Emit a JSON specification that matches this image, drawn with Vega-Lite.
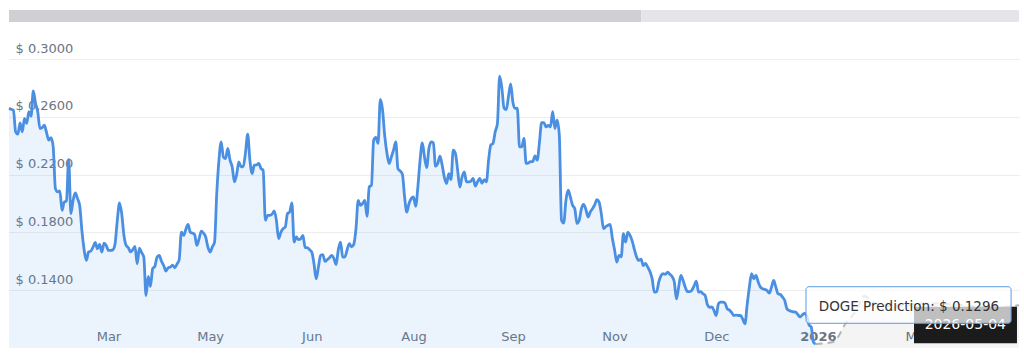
{
  "$schema": "https://vega.github.io/schema/vega-lite/v6.json",
  "background": "white",
  "padding": {"left": 7, "top": 10, "right": 0, "bottom": 0},
  "bounds": "flush",
  "spacing": 37,
  "config": {"view": {"stroke": null}, "font": "DejaVu Sans"},
  "datasets": {
    "scroll": [
      {"part": "viewed", "from": 0, "to": 0.626},
      {"part": "rest", "from": 0.626, "to": 1}
    ],
    "history": [
      {"date": "2025-02-01", "price": 0.2658}, {"date": "2025-02-02", "price": 0.2652}, {"date": "2025-02-03", "price": 0.2646}, {"date": "2025-02-04", "price": 0.2496}, {"date": "2025-02-05", "price": 0.2480}, {"date": "2025-02-06", "price": 0.2558}, {"date": "2025-02-07", "price": 0.2496}, {"date": "2025-02-08", "price": 0.2589}, {"date": "2025-02-09", "price": 0.2554}, {"date": "2025-02-10", "price": 0.2635}, {"date": "2025-02-11", "price": 0.2605}, {"date": "2025-02-12", "price": 0.2780}, {"date": "2025-02-13", "price": 0.2693}, {"date": "2025-02-14", "price": 0.2635}, {"date": "2025-02-15", "price": 0.2519}, {"date": "2025-02-16", "price": 0.2525}, {"date": "2025-02-17", "price": 0.2542}, {"date": "2025-02-18", "price": 0.2490}, {"date": "2025-02-19", "price": 0.2438}, {"date": "2025-02-20", "price": 0.2455}, {"date": "2025-02-21", "price": 0.2392}, {"date": "2025-02-22", "price": 0.2103}, {"date": "2025-02-23", "price": 0.2080}, {"date": "2025-02-24", "price": 0.2087}, {"date": "2025-02-25", "price": 0.1953}, {"date": "2025-02-26", "price": 0.2010}, {"date": "2025-02-27", "price": 0.2017}, {"date": "2025-02-28", "price": 0.2306},
      {"date": "2025-03-01", "price": 0.1930}, {"date": "2025-03-02", "price": 0.2022}, {"date": "2025-03-03", "price": 0.2073}, {"date": "2025-03-04", "price": 0.2034}, {"date": "2025-03-05", "price": 0.1985}, {"date": "2025-03-06", "price": 0.1810}, {"date": "2025-03-07", "price": 0.1680}, {"date": "2025-03-08", "price": 0.1606}, {"date": "2025-03-09", "price": 0.1665}, {"date": "2025-03-10", "price": 0.1670}, {"date": "2025-03-11", "price": 0.1698}, {"date": "2025-03-12", "price": 0.1730}, {"date": "2025-03-13", "price": 0.1687}, {"date": "2025-03-14", "price": 0.1717}, {"date": "2025-03-15", "price": 0.1664}, {"date": "2025-03-16", "price": 0.1726}, {"date": "2025-03-17", "price": 0.1710}, {"date": "2025-03-18", "price": 0.1675}, {"date": "2025-03-19", "price": 0.1675}, {"date": "2025-03-20", "price": 0.1680}, {"date": "2025-03-21", "price": 0.1722}, {"date": "2025-03-22", "price": 0.1883}, {"date": "2025-03-23", "price": 0.2004}, {"date": "2025-03-24", "price": 0.1930}, {"date": "2025-03-25", "price": 0.1780}, {"date": "2025-03-26", "price": 0.1710}, {"date": "2025-03-27", "price": 0.1694}, {"date": "2025-03-28", "price": 0.1665}, {"date": "2025-03-29", "price": 0.1680}, {"date": "2025-03-30", "price": 0.1703}, {"date": "2025-03-31", "price": 0.1583},
      {"date": "2025-04-01", "price": 0.1691}, {"date": "2025-04-02", "price": 0.1660}, {"date": "2025-04-03", "price": 0.1629}, {"date": "2025-04-04", "price": 0.1363}, {"date": "2025-04-05", "price": 0.1495}, {"date": "2025-04-06", "price": 0.1426}, {"date": "2025-04-07", "price": 0.1549}, {"date": "2025-04-08", "price": 0.1565}, {"date": "2025-04-09", "price": 0.1629}, {"date": "2025-04-10", "price": 0.1640}, {"date": "2025-04-11", "price": 0.1600}, {"date": "2025-04-12", "price": 0.1571}, {"date": "2025-04-13", "price": 0.1532}, {"date": "2025-04-14", "price": 0.1555}, {"date": "2025-04-15", "price": 0.1560}, {"date": "2025-04-16", "price": 0.1574}, {"date": "2025-04-17", "price": 0.1555}, {"date": "2025-04-18", "price": 0.1580}, {"date": "2025-04-19", "price": 0.1611}, {"date": "2025-04-20", "price": 0.1802}, {"date": "2025-04-21", "price": 0.1779}, {"date": "2025-04-22", "price": 0.1820}, {"date": "2025-04-23", "price": 0.1856}, {"date": "2025-04-24", "price": 0.1802}, {"date": "2025-04-25", "price": 0.1795}, {"date": "2025-04-26", "price": 0.1785}, {"date": "2025-04-27", "price": 0.1710}, {"date": "2025-04-28", "price": 0.1755}, {"date": "2025-04-29", "price": 0.1809}, {"date": "2025-04-30", "price": 0.1795},
      {"date": "2025-05-01", "price": 0.1768}, {"date": "2025-05-02", "price": 0.1698}, {"date": "2025-05-03", "price": 0.1664}, {"date": "2025-05-04", "price": 0.1700}, {"date": "2025-05-05", "price": 0.1733}, {"date": "2025-05-06", "price": 0.2069}, {"date": "2025-05-07", "price": 0.2300}, {"date": "2025-05-08", "price": 0.2427}, {"date": "2025-05-09", "price": 0.2322}, {"date": "2025-05-10", "price": 0.2311}, {"date": "2025-05-11", "price": 0.2381}, {"date": "2025-05-12", "price": 0.2300}, {"date": "2025-05-13", "price": 0.2253}, {"date": "2025-05-14", "price": 0.2149}, {"date": "2025-05-15", "price": 0.2200}, {"date": "2025-05-16", "price": 0.2288}, {"date": "2025-05-17", "price": 0.2253}, {"date": "2025-05-18", "price": 0.2258}, {"date": "2025-05-19", "price": 0.2350}, {"date": "2025-05-20", "price": 0.2480}, {"date": "2025-05-21", "price": 0.2300}, {"date": "2025-05-22", "price": 0.2207}, {"date": "2025-05-23", "price": 0.2265}, {"date": "2025-05-24", "price": 0.2267}, {"date": "2025-05-25", "price": 0.2277}, {"date": "2025-05-26", "price": 0.2242}, {"date": "2025-05-27", "price": 0.2230}, {"date": "2025-05-28", "price": 0.1883}, {"date": "2025-05-29", "price": 0.1918}, {"date": "2025-05-30", "price": 0.1918}, {"date": "2025-05-31", "price": 0.1925},
      {"date": "2025-06-01", "price": 0.1948}, {"date": "2025-06-02", "price": 0.1883}, {"date": "2025-06-03", "price": 0.1757}, {"date": "2025-06-04", "price": 0.1800}, {"date": "2025-06-05", "price": 0.1826}, {"date": "2025-06-06", "price": 0.1837}, {"date": "2025-06-07", "price": 0.1930}, {"date": "2025-06-08", "price": 0.1941}, {"date": "2025-06-09", "price": 0.2004}, {"date": "2025-06-10", "price": 0.1733}, {"date": "2025-06-11", "price": 0.1768}, {"date": "2025-06-12", "price": 0.1750}, {"date": "2025-06-13", "price": 0.1755}, {"date": "2025-06-14", "price": 0.1779}, {"date": "2025-06-15", "price": 0.1694}, {"date": "2025-06-16", "price": 0.1694}, {"date": "2025-06-17", "price": 0.1680}, {"date": "2025-06-18", "price": 0.1664}, {"date": "2025-06-19", "price": 0.1583}, {"date": "2025-06-20", "price": 0.1479}, {"date": "2025-06-21", "price": 0.1560}, {"date": "2025-06-22", "price": 0.1641}, {"date": "2025-06-23", "price": 0.1646}, {"date": "2025-06-24", "price": 0.1599}, {"date": "2025-06-25", "price": 0.1611}, {"date": "2025-06-26", "price": 0.1625}, {"date": "2025-06-27", "price": 0.1641}, {"date": "2025-06-28", "price": 0.1620}, {"date": "2025-06-29", "price": 0.1578}, {"date": "2025-06-30", "price": 0.1680},
      {"date": "2025-07-01", "price": 0.1733}, {"date": "2025-07-02", "price": 0.1629}, {"date": "2025-07-03", "price": 0.1631}, {"date": "2025-07-04", "price": 0.1680}, {"date": "2025-07-05", "price": 0.1722}, {"date": "2025-07-06", "price": 0.1700}, {"date": "2025-07-07", "price": 0.1717}, {"date": "2025-07-08", "price": 0.1826}, {"date": "2025-07-09", "price": 0.2022}, {"date": "2025-07-10", "price": 0.1988}, {"date": "2025-07-11", "price": 0.2000}, {"date": "2025-07-12", "price": 0.2022}, {"date": "2025-07-13", "price": 0.1911}, {"date": "2025-07-14", "price": 0.2114}, {"date": "2025-07-15", "price": 0.2126}, {"date": "2025-07-16", "price": 0.2438}, {"date": "2025-07-17", "price": 0.2457}, {"date": "2025-07-18", "price": 0.2416}, {"date": "2025-07-19", "price": 0.2720}, {"date": "2025-07-20", "price": 0.2651}, {"date": "2025-07-21", "price": 0.2470}, {"date": "2025-07-22", "price": 0.2350}, {"date": "2025-07-23", "price": 0.2277}, {"date": "2025-07-24", "price": 0.2322}, {"date": "2025-07-25", "price": 0.2369}, {"date": "2025-07-26", "price": 0.2427}, {"date": "2025-07-27", "price": 0.2240}, {"date": "2025-07-28", "price": 0.2225}, {"date": "2025-07-29", "price": 0.2203}, {"date": "2025-07-30", "price": 0.2045}, {"date": "2025-07-31", "price": 0.1941},
      {"date": "2025-08-01", "price": 0.2000}, {"date": "2025-08-02", "price": 0.2034}, {"date": "2025-08-03", "price": 0.2045}, {"date": "2025-08-04", "price": 0.1981}, {"date": "2025-08-05", "price": 0.2114}, {"date": "2025-08-06", "price": 0.2300}, {"date": "2025-08-07", "price": 0.2420}, {"date": "2025-08-08", "price": 0.2322}, {"date": "2025-08-09", "price": 0.2249}, {"date": "2025-08-10", "price": 0.2380}, {"date": "2025-08-11", "price": 0.2427}, {"date": "2025-08-12", "price": 0.2420}, {"date": "2025-08-13", "price": 0.2258}, {"date": "2025-08-14", "price": 0.2277}, {"date": "2025-08-15", "price": 0.2327}, {"date": "2025-08-16", "price": 0.2265}, {"date": "2025-08-17", "price": 0.2180}, {"date": "2025-08-18", "price": 0.2138}, {"date": "2025-08-19", "price": 0.2207}, {"date": "2025-08-20", "price": 0.2166}, {"date": "2025-08-21", "price": 0.2369}, {"date": "2025-08-22", "price": 0.2346}, {"date": "2025-08-23", "price": 0.2230}, {"date": "2025-08-24", "price": 0.2114}, {"date": "2025-08-25", "price": 0.2184}, {"date": "2025-08-26", "price": 0.2219}, {"date": "2025-08-27", "price": 0.2149}, {"date": "2025-08-28", "price": 0.2149}, {"date": "2025-08-29", "price": 0.2155}, {"date": "2025-08-30", "price": 0.2173}, {"date": "2025-08-31", "price": 0.2120},
      {"date": "2025-09-01", "price": 0.2150}, {"date": "2025-09-02", "price": 0.2173}, {"date": "2025-09-03", "price": 0.2140}, {"date": "2025-09-04", "price": 0.2165}, {"date": "2025-09-05", "price": 0.2149}, {"date": "2025-09-06", "price": 0.2300}, {"date": "2025-09-07", "price": 0.2404}, {"date": "2025-09-08", "price": 0.2416}, {"date": "2025-09-09", "price": 0.2496}, {"date": "2025-09-10", "price": 0.2554}, {"date": "2025-09-11", "price": 0.2882}, {"date": "2025-09-12", "price": 0.2800}, {"date": "2025-09-13", "price": 0.2660}, {"date": "2025-09-14", "price": 0.2650}, {"date": "2025-09-15", "price": 0.2740}, {"date": "2025-09-16", "price": 0.2827}, {"date": "2025-09-17", "price": 0.2700}, {"date": "2025-09-18", "price": 0.2658}, {"date": "2025-09-19", "price": 0.2660}, {"date": "2025-09-20", "price": 0.2392}, {"date": "2025-09-21", "price": 0.2392}, {"date": "2025-09-22", "price": 0.2450}, {"date": "2025-09-23", "price": 0.2277}, {"date": "2025-09-24", "price": 0.2280}, {"date": "2025-09-25", "price": 0.2290}, {"date": "2025-09-26", "price": 0.2290}, {"date": "2025-09-27", "price": 0.2330}, {"date": "2025-09-28", "price": 0.2300}, {"date": "2025-09-29", "price": 0.2420}, {"date": "2025-09-30", "price": 0.2560},
      {"date": "2025-10-01", "price": 0.2560}, {"date": "2025-10-02", "price": 0.2531}, {"date": "2025-10-03", "price": 0.2540}, {"date": "2025-10-04", "price": 0.2530}, {"date": "2025-10-05", "price": 0.2635}, {"date": "2025-10-06", "price": 0.2519}, {"date": "2025-10-07", "price": 0.2577}, {"date": "2025-10-08", "price": 0.2473}, {"date": "2025-10-09", "price": 0.1883}, {"date": "2025-10-10", "price": 0.1865}, {"date": "2025-10-11", "price": 0.2022}, {"date": "2025-10-12", "price": 0.2092}, {"date": "2025-10-13", "price": 0.2045}, {"date": "2025-10-14", "price": 0.1988}, {"date": "2025-10-15", "price": 0.1964}, {"date": "2025-10-16", "price": 0.1861}, {"date": "2025-10-17", "price": 0.1883}, {"date": "2025-10-18", "price": 0.1964}, {"date": "2025-10-19", "price": 0.1994}, {"date": "2025-10-20", "price": 0.1960}, {"date": "2025-10-21", "price": 0.1906}, {"date": "2025-10-22", "price": 0.1941}, {"date": "2025-10-23", "price": 0.1964}, {"date": "2025-10-24", "price": 0.1990}, {"date": "2025-10-25", "price": 0.2027}, {"date": "2025-10-26", "price": 0.2010}, {"date": "2025-10-27", "price": 0.1930}, {"date": "2025-10-28", "price": 0.1826}, {"date": "2025-10-29", "price": 0.1840}, {"date": "2025-10-30", "price": 0.1849}, {"date": "2025-10-31", "price": 0.1856},
      {"date": "2025-11-01", "price": 0.1760}, {"date": "2025-11-02", "price": 0.1680}, {"date": "2025-11-03", "price": 0.1594}, {"date": "2025-11-04", "price": 0.1641}, {"date": "2025-11-05", "price": 0.1630}, {"date": "2025-11-06", "price": 0.1791}, {"date": "2025-11-07", "price": 0.1733}, {"date": "2025-11-08", "price": 0.1802}, {"date": "2025-11-09", "price": 0.1780}, {"date": "2025-11-10", "price": 0.1740}, {"date": "2025-11-11", "price": 0.1680}, {"date": "2025-11-12", "price": 0.1629}, {"date": "2025-11-13", "price": 0.1606}, {"date": "2025-11-14", "price": 0.1615}, {"date": "2025-11-15", "price": 0.1571}, {"date": "2025-11-16", "price": 0.1585}, {"date": "2025-11-17", "price": 0.1560}, {"date": "2025-11-18", "price": 0.1530}, {"date": "2025-11-19", "price": 0.1480}, {"date": "2025-11-20", "price": 0.1386}, {"date": "2025-11-21", "price": 0.1389}, {"date": "2025-11-22", "price": 0.1456}, {"date": "2025-11-23", "price": 0.1500}, {"date": "2025-11-24", "price": 0.1514}, {"date": "2025-11-25", "price": 0.1510}, {"date": "2025-11-26", "price": 0.1525}, {"date": "2025-11-27", "price": 0.1510}, {"date": "2025-11-28", "price": 0.1495}, {"date": "2025-11-29", "price": 0.1460}, {"date": "2025-11-30", "price": 0.1340},
      {"date": "2025-12-01", "price": 0.1421}, {"date": "2025-12-02", "price": 0.1502}, {"date": "2025-12-03", "price": 0.1467}, {"date": "2025-12-04", "price": 0.1420}, {"date": "2025-12-05", "price": 0.1390}, {"date": "2025-12-06", "price": 0.1390}, {"date": "2025-12-07", "price": 0.1400}, {"date": "2025-12-08", "price": 0.1430}, {"date": "2025-12-09", "price": 0.1463}, {"date": "2025-12-10", "price": 0.1386}, {"date": "2025-12-11", "price": 0.1390}, {"date": "2025-12-12", "price": 0.1375}, {"date": "2025-12-13", "price": 0.1363}, {"date": "2025-12-14", "price": 0.1300}, {"date": "2025-12-15", "price": 0.1282}, {"date": "2025-12-16", "price": 0.1285}, {"date": "2025-12-17", "price": 0.1259}, {"date": "2025-12-18", "price": 0.1225}, {"date": "2025-12-19", "price": 0.1306}, {"date": "2025-12-20", "price": 0.1317}, {"date": "2025-12-21", "price": 0.1317}, {"date": "2025-12-22", "price": 0.1310}, {"date": "2025-12-23", "price": 0.1271}, {"date": "2025-12-24", "price": 0.1262}, {"date": "2025-12-25", "price": 0.1245}, {"date": "2025-12-26", "price": 0.1225}, {"date": "2025-12-27", "price": 0.1228}, {"date": "2025-12-28", "price": 0.1225}, {"date": "2025-12-29", "price": 0.1225}, {"date": "2025-12-30", "price": 0.1200}, {"date": "2025-12-31", "price": 0.1167},
      {"date": "2026-01-01", "price": 0.1300}, {"date": "2026-01-02", "price": 0.1421}, {"date": "2026-01-03", "price": 0.1514}, {"date": "2026-01-04", "price": 0.1479}, {"date": "2026-01-05", "price": 0.1502}, {"date": "2026-01-06", "price": 0.1456}, {"date": "2026-01-07", "price": 0.1421}, {"date": "2026-01-08", "price": 0.1410}, {"date": "2026-01-09", "price": 0.1405}, {"date": "2026-01-10", "price": 0.1398}, {"date": "2026-01-11", "price": 0.1380}, {"date": "2026-01-12", "price": 0.1420}, {"date": "2026-01-13", "price": 0.1467}, {"date": "2026-01-14", "price": 0.1420}, {"date": "2026-01-15", "price": 0.1375}, {"date": "2026-01-16", "price": 0.1370}, {"date": "2026-01-17", "price": 0.1352}, {"date": "2026-01-18", "price": 0.1329}, {"date": "2026-01-19", "price": 0.1271}, {"date": "2026-01-20", "price": 0.1260}, {"date": "2026-01-21", "price": 0.1254}, {"date": "2026-01-22", "price": 0.1250}, {"date": "2026-01-23", "price": 0.1248}, {"date": "2026-01-24", "price": 0.1230}, {"date": "2026-01-25", "price": 0.1215}, {"date": "2026-01-26", "price": 0.1230}, {"date": "2026-01-27", "price": 0.1240}, {"date": "2026-01-28", "price": 0.1220}, {"date": "2026-01-29", "price": 0.1160}, {"date": "2026-01-30", "price": 0.1144}, {"date": "2026-01-31", "price": 0.1040}, {"date": "2026-02-01", "price": 0.1028}
    ],
    "prediction": [
      {"date": "2026-02-01", "price": 0.1028}, {"date": "2026-02-09", "price": 0.1042}, {"date": "2026-02-15", "price": 0.1180}, {"date": "2026-02-19", "price": 0.1250}, {"date": "2026-02-23", "price": 0.1360}, {"date": "2026-02-28", "price": 0.1310}, {"date": "2026-03-08", "price": 0.1290}, {"date": "2026-03-23", "price": 0.1310}, {"date": "2026-04-07", "price": 0.1300}, {"date": "2026-04-22", "price": 0.1280}, {"date": "2026-05-04", "price": 0.1296}
    ],
    "cursor": [{"date": "2026-05-04"}],
    "boxes": [
      {"name": "date", "date": "2026-03-17T12:00:00Z", "date2": "2026-05-03T02:00:00Z", "price": 0.1033, "price2": 0.1286},
      {"name": "tip", "date": "2026-01-27T15:00:00Z", "date2": "2026-04-30T10:00:00Z", "price": 0.1171, "price2": 0.1424}
    ],
    "notes": [
      {"name": "date", "date": "2026-04-28T03:00:00Z", "price": 0.1159, "text": "2026-05-04"},
      {"name": "tip", "date": "2026-02-02T10:00:00Z", "price": 0.1286, "text": "DOGE Prediction: $ 0.1296"}
    ]
  },
  "vconcat": [
    {
      "width": 1010,
      "height": 12,
      "data": {"name": "scroll"},
      "mark": {"type": "rect"},
      "encoding": {
        "x": {"field": "from", "type": "quantitative", "scale": {"domain": [0, 1], "nice": false, "zero": false}, "axis": null},
        "x2": {"field": "to"},
        "color": {"field": "part", "type": "nominal", "scale": {"domain": ["viewed", "rest"], "range": ["#cfd0d6", "#e4e4ea"]}, "legend": null}
      }
    },
    {
      "width": 1010,
      "height": 289,
      "encoding": {
        "x": {
          "field": "date", "type": "temporal",
          "scale": {"type": "utc", "domain": [{"year": 2025, "month": 2, "date": 1, "utc": true}, {"year": 2026, "month": 5, "date": 4, "utc": true}], "nice": false},
          "axis": {
            "title": null, "grid": false, "domain": false, "ticks": false, "tickSize": 0,
            "values": [
              {"year": 2025, "month": 3, "date": 18, "utc": true},
              {"year": 2025, "month": 5, "date": 3, "utc": true},
              {"year": 2025, "month": 6, "date": 18, "utc": true},
              {"year": 2025, "month": 8, "date": 3, "utc": true},
              {"year": 2025, "month": 9, "date": 17, "utc": true},
              {"year": 2025, "month": 11, "date": 2, "utc": true},
              {"year": 2025, "month": 12, "date": 18, "utc": true},
              {"year": 2026, "month": 2, "date": 2, "utc": true},
              {"year": 2026, "month": 3, "date": 19, "utc": true}
            ],
            "labelExpr": "utcFormat(datum.value, '%Y-%m') == '2026-02' ? '2026' : utcFormat(datum.value, '%b')",
            "labelFontWeight": {"condition": {"test": "utcFormat(datum.value, '%Y-%m') == '2026-02'", "value": "bold"}, "value": "normal"},
            "labelPadding": -12, "labelBaseline": "middle", "labelFlush": false, "labelOverlap": false,
            "labelColor": "#6a7584", "labelFontSize": 13
          }
        },
        "y": {
          "field": "price", "type": "quantitative",
          "scale": {"domain": [0.1, 0.3], "nice": false, "zero": false},
          "axis": {
            "title": null, "domain": false, "ticks": false, "tickSize": 0,
            "values": [0.14, 0.18, 0.22, 0.26, 0.30],
            "grid": true, "gridColor": "#ededed", "gridWidth": 1,
            "labelExpr": "'$ ' + format(datum.value, '.4f')",
            "labelAlign": "left", "labelPadding": -6, "labelBaseline": "middle", "labelOffset": -11,
            "labelFlush": false, "labelOverlap": false,
            "labelColor": "#6a7584", "labelFontSize": 13
          }
        }
      },
      "layer": [
        {
          "data": {"name": "history"},
          "mark": {"type": "area", "fill": "#4a90e2", "fillOpacity": 0.11, "interpolate": "monotone"},
          "encoding": {"y2": {"datum": 0.1}}
        },
        {
          "data": {"name": "prediction"},
          "mark": {"type": "area", "fill": "#000000", "fillOpacity": 0.045, "interpolate": "monotone"},
          "encoding": {"y2": {"datum": 0.1}}
        },
        {
          "data": {"name": "history"},
          "mark": {"type": "line", "stroke": "#4a8fe1", "strokeWidth": 2.8, "strokeJoin": "round", "interpolate": "monotone"},
          "encoding": {}
        },
        {
          "data": {"name": "prediction"},
          "mark": {"type": "line", "stroke": "#b3b3b3", "strokeWidth": 2, "strokeDash": [7, 5], "interpolate": "monotone"},
          "encoding": {}
        },
        {
          "data": {"name": "cursor"},
          "mark": {"type": "rule", "stroke": "#c4c4c4", "strokeWidth": 1, "strokeDash": [3, 3]},
          "encoding": {"y": {"datum": 0.3}, "y2": {"datum": 0.1}}
        },
        {
          "data": {"name": "boxes"},
          "transform": [{"filter": "datum.name == 'date'"}],
          "mark": {"type": "rect", "fill": "#1b1b1b"},
          "encoding": {"x2": {"field": "date2"}, "y2": {"field": "price2"}}
        },
        {
          "data": {"name": "notes"},
          "transform": [{"filter": "datum.name == 'date'"}],
          "mark": {"type": "text", "align": "right", "baseline": "middle", "fontSize": 14, "fill": "#ffffff"},
          "encoding": {"text": {"field": "text"}}
        },
        {
          "data": {"name": "boxes"},
          "transform": [{"filter": "datum.name == 'tip'"}],
          "mark": {"type": "rect", "fill": "#ffffff", "fillOpacity": 0.72, "stroke": "#5b9be6", "strokeWidth": 1, "cornerRadius": 3},
          "encoding": {"x2": {"field": "date2"}, "y2": {"field": "price2"}}
        },
        {
          "data": {"name": "notes"},
          "transform": [{"filter": "datum.name == 'tip'"}],
          "mark": {"type": "text", "align": "left", "baseline": "middle", "fontSize": 13.5, "fill": "#333333"},
          "encoding": {"text": {"field": "text"}}
        }
      ]
    }
  ]
}
